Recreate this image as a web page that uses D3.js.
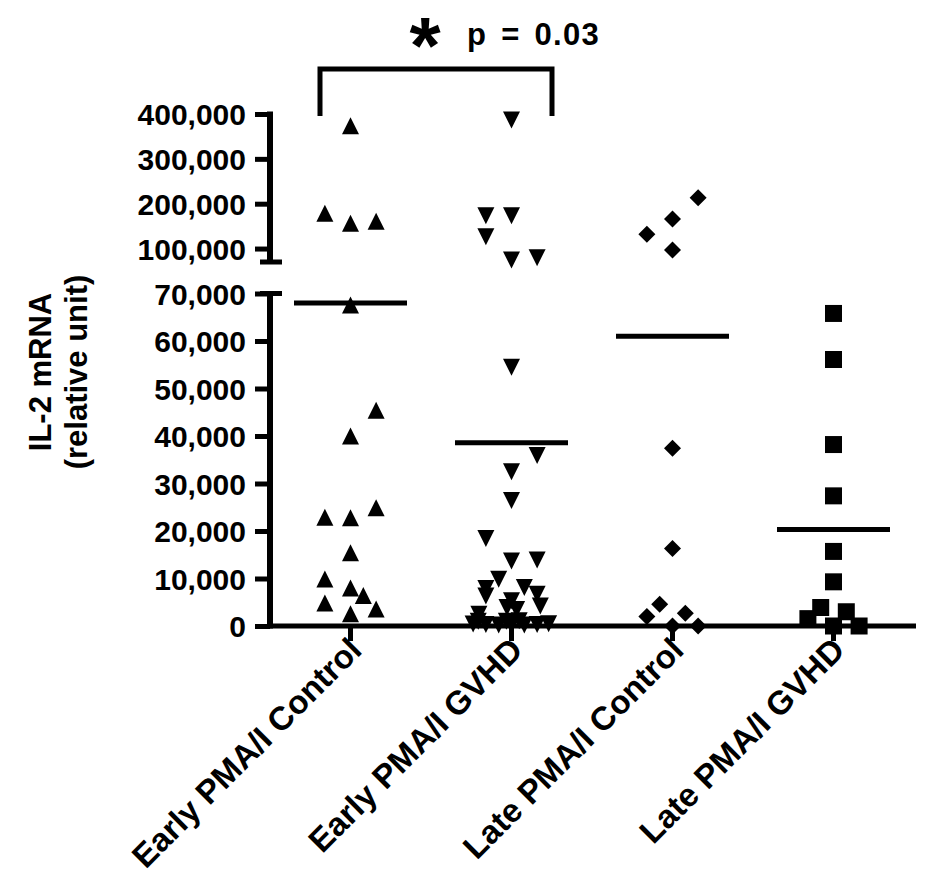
<!DOCTYPE html>
<html>
<head>
<meta charset="utf-8">
<script src="https://cdn.jsdelivr.net/npm/d3@7"></script>
<style>
  html, body { margin: 0; padding: 0; background: #fff; }
  svg text { font-family: "Liberation Sans", Arial, sans-serif; font-weight: bold; fill: #000; }
</style>
</head>
<body>
<svg id="chart" width="930" height="893"></svg>
<script>
// ---------------- DATA ----------------
const categories = ["Early PMA/I Control", "Early PMA/I GVHD", "Late PMA/I Control", "Late PMA/I GVHD"];

const earlyControlValues = [374000, 178600, 156300, 160700, 67600, 45400, 40000, 24900, 22900, 22800, 15400, 9900, 8000, 6400, 4850, 3600, 2600];
const earlyControlSlots  = [0, -2, 0, 2, 0, 2, 0, 2, -2, 0, 0, -2, 0, 1, -2, 2, 0];

const earlyGvhdValues = [386600, 173200, 173200, 126400, 74500, 79600, 54500, 35900, 32500, 26400, 18400, 13700, 13900, 9850, 7900, 8100, 6300, 6700, 5300, 3900, 3500, 4200, 2500,
                         400, 1000, 300, 200, 1000, 300, 1100, 200, 300, 500];
const earlyGvhdSlots  = [0, -2, 0, -2, 0, 2, 0, 2, 0, 0, -2, 0, 2, -1, -2, 1, -2, 2, 0, -0.35, 0.4, 2.25, -2.55,
                         -3, -2.6, -2, -1, -0.4, 0, 0.6, 1, 2, 2.9];

const lateControlValues = [213400, 165900, 131800, 96800, 37400, 16300, 4600, 2000, 2700, 0, 0];
const lateControlSlots  = [2, 0, -2, 0, 0, 0, -1, -2, 1, 0, 2];

const lateGvhdValues = [65800, 56100, 38200, 27400, 15700, 9300, 3900, 1550, 3000, 0, 0];
const lateGvhdSlots  = [0, 0, 0, 0, 0, 0, -1, -2, 1, 0, 2];

const groupMeans = [68000, 38600, 61000, 20300];
const groupShapes = ["triangleUp", "triangleDown", "diamond", "square"];

const lowerTicks = [0, 10000, 20000, 30000, 40000, 50000, 60000, 70000];
const upperTicks = [100000, 200000, 300000, 400000];
const breakValue = 70000;

const yTitleLines = ["IL-2 mRNA", "(relative unit)"];
const pValueText = "p = 0.03";
const starText = "*";

// ---------------- BUILD ----------------
const groups = [
  { values: earlyControlValues, slots: earlyControlSlots },
  { values: earlyGvhdValues, slots: earlyGvhdSlots },
  { values: lateControlValues, slots: lateControlSlots },
  { values: lateGvhdValues, slots: lateGvhdSlots }
].map((g, i) => ({ category: categories[i], shape: groupShapes[i], mean: groupMeans[i],
  points: g.values.map((v, j) => ({ value: v, slot: g.slots[j] })) }));

const svg = d3.select("#chart");
const axisX = 270;
const baseY = 626;

const x = d3.scaleBand().domain(categories).range([axisX, 914]).padding(0);
const cx = c => x(c) + x.bandwidth() / 2;
const yLow = d3.scaleLinear().domain([0, breakValue]).range([baseY, 293.5]);
const yHigh = d3.scaleLinear().domain([breakValue, 400000]).range([262, 114]);
const y = v => v > breakValue ? yHigh(v) : yLow(v);

const slotPx = 12.8;
const S = 8.5; // half symbol size

const shapePath = {
  triangleUp: `M0,${-S}L${S},${S}L${-S},${S}Z`,
  triangleDown: `M0,${S}L${S},${-S}L${-S},${-S}Z`,
  diamond: `M0,${-S}L${S},0L0,${S}L${-S},0Z`,
  square: `M${-S},${-S}H${S}V${S}H${-S}Z`
};

const fmt = d3.format(",");
const SW = 5;

// Lower Y axis
const lowerAxis = d3.axisLeft(yLow).tickValues(lowerTicks).tickFormat(fmt).tickSize(15).tickSizeOuter(0).tickPadding(9);
const gLow = svg.append("g").attr("transform", `translate(${axisX},0)`).call(lowerAxis);
// Upper Y axis
const upperAxis = d3.axisLeft(yHigh).tickValues(upperTicks).tickFormat(fmt).tickSize(15).tickSizeOuter(0).tickPadding(9);
const gHigh = svg.append("g").attr("transform", `translate(${axisX},0)`).call(upperAxis);

[gLow, gHigh].forEach(g => {
  g.select(".domain").remove();
  g.selectAll(".tick line").attr("stroke", "#000").attr("stroke-width", SW);
  g.selectAll(".tick text").style("font-size", "30px").attr("dy", "0.36em");
});

// axis spines
svg.append("line").attr("x1", axisX).attr("x2", axisX).attr("y1", yLow(0) + SW / 2).attr("y2", yLow(breakValue))
  .attr("stroke", "#000").attr("stroke-width", 6);
svg.append("line").attr("x1", axisX).attr("x2", axisX).attr("y1", yHigh(breakValue)).attr("y2", yHigh(400000) - SW / 2)
  .attr("stroke", "#000").attr("stroke-width", 6);
// break caps
[yLow(breakValue), yHigh(breakValue)].forEach(yy => {
  svg.append("line").attr("x1", axisX - 10).attr("x2", axisX + 12).attr("y1", yy).attr("y2", yy)
    .attr("stroke", "#000").attr("stroke-width", SW);
});

// X axis
const xAxis = d3.axisBottom(x).tickSize(15).tickSizeOuter(0).tickFormat("");
const gX = svg.append("g").attr("transform", `translate(0,${baseY})`).call(xAxis);
gX.select(".domain").remove();
gX.selectAll(".tick line").attr("stroke", "#000").attr("stroke-width", SW);
svg.append("line").attr("x1", axisX).attr("x2", 916).attr("y1", baseY).attr("y2", baseY)
  .attr("stroke", "#000").attr("stroke-width", SW);

// X labels
svg.append("g").selectAll("text").data(categories).join("text")
  .attr("transform", d => `translate(${cx(d) + 13},${baseY + 26}) rotate(-45)`)
  .attr("text-anchor", "end")
  .style("font-size", "33px")
  .text(d => d);

// Points
groups.forEach(g => {
  svg.append("g").selectAll("path").data(g.points).join("path")
    .attr("d", shapePath[g.shape])
    .attr("transform", d => `translate(${cx(g.category) + d.slot * slotPx},${y(d.value)})`)
    .attr("fill", "#000");
});

// Mean lines
svg.append("g").selectAll("line").data(groups).join("line")
  .attr("x1", d => cx(d.category) - 56.5)
  .attr("x2", d => cx(d.category) + 56.5)
  .attr("y1", d => y(d.mean)).attr("y2", d => y(d.mean))
  .attr("stroke", "#000").attr("stroke-width", SW);

// Y title
svg.append("g").selectAll("text").data(yTitleLines).join("text")
  .attr("transform", (d, i) => `translate(${51 + i * 36},372) rotate(-90)`)
  .attr("text-anchor", "middle")
  .style("font-size", "31px")
  .text(d => d);

// Significance bracket
const bx1 = cx(categories[0]) - 30.5, bx2 = cx(categories[1]) + 40.5;
svg.append("path")
  .attr("d", `M${bx1},116V69H${bx2}V116`)
  .attr("fill", "none").attr("stroke", "#000").attr("stroke-width", SW);
svg.append("text").attr("x", 425).attr("y", 73).attr("text-anchor", "middle")
  .style("font-size", "80px").text(starText);
svg.append("text").attr("x", 467).attr("y", 45)
  .style("font-size", "31px").style("word-spacing", "4px").style("letter-spacing", "1.3px").text(pValueText);
</script>
</body>
</html>
